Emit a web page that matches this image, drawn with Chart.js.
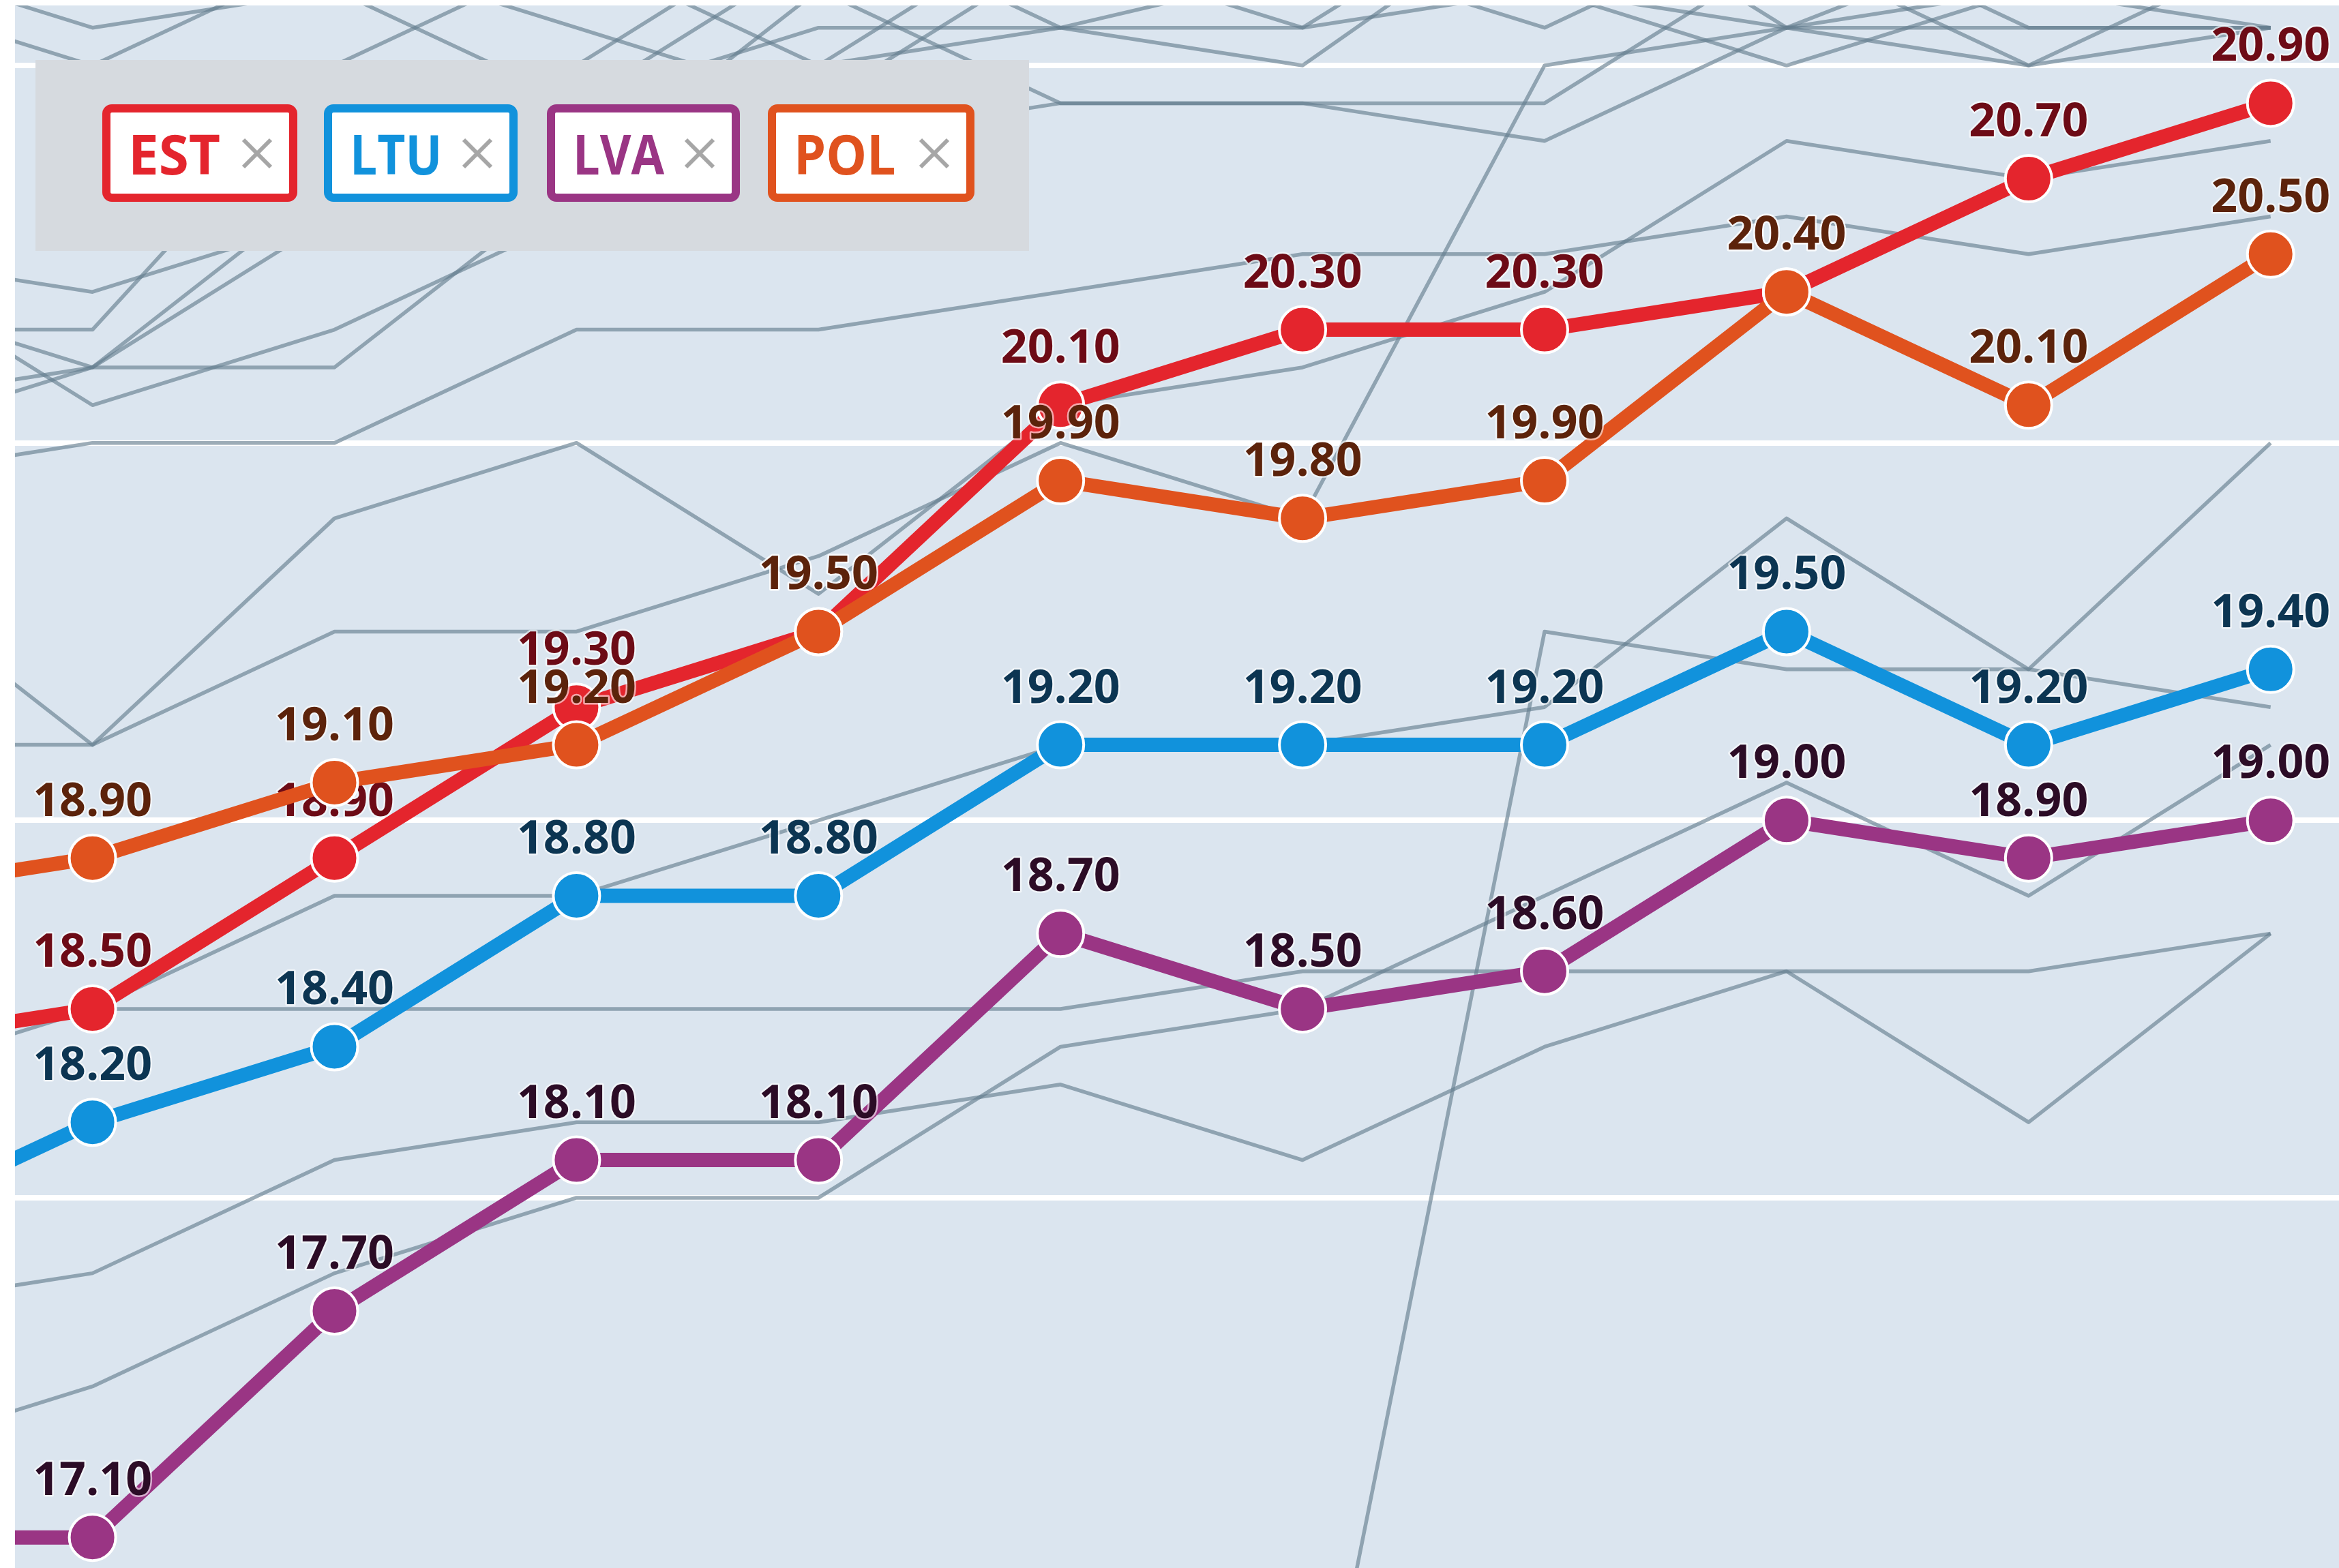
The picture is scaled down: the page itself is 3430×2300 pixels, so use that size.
<!DOCTYPE html>
<html>
<head>
<meta charset="utf-8">
<script src="https://cdn.jsdelivr.net/npm/chart.js@4/dist/chart.umd.min.js"></script>
<style>
	html, body { margin: 0; padding: 0; background: #fff; }
	#wrap { position: relative; width: 3430px; height: 2300px; overflow: hidden; }
	#ChartLifeExp { position: absolute; left: 0; top: 0; }
	#legend {
		position: absolute; left: 52px; top: 88px; width: 1457px; height: 280px;
		background: #d6dadf;
	}
	.chip {
		position: absolute; top: 65px; height: 143px; box-sizing: border-box;
		border: 12px solid; border-radius: 14px; background: #fff;
		display: flex; align-items: center; justify-content: space-between;
		padding: 0 23px 0 26px;
		font-family: "Open Sans", sans-serif; font-weight: 700; font-size: 80px; line-height: 1;
	}
	.chip span { display: inline-block; transform-origin: left center; }
</style>
</head>
<body>
<div id="wrap">
	<canvas id="ChartLifeExp" width="3430" height="2300"></canvas>
	<div id="legend"></div>
</div>
<script>
// --------------
// DATA
// --------------
const years = [2007, 2008, 2009, 2010, 2011, 2012, 2013, 2014, 2015, 2016, 2017];

// highlighted countries
const est = [18.4, 18.5, 18.9, 19.3, 19.5, 20.1, 20.3, 20.3, 20.4, 20.7, 20.9];
const ltu = [17.9, 18.2, 18.4, 18.8, 18.8, 19.2, 19.2, 19.2, 19.5, 19.2, 19.4];
const lva = [17.1, 17.1, 17.7, 18.1, 18.1, 18.7, 18.5, 18.6, 19.0, 18.9, 19.0];
const pol = [18.8, 18.9, 19.1, 19.2, 19.5, 19.9, 19.8, 19.9, 20.4, 20.1, 20.5];

// other countries (grey background lines)
const other01 = [19.9, 20.0, 20.0, 20.3, 20.3, 20.4, 20.5, 20.5, 20.6, 20.5, 20.6];
const other02 = [19.7, 19.2, 19.8, 20.0, 19.6, 20.1, 20.2, 20.4, 20.8, 20.7, 20.8];
const other03 = [19.2, 19.2, 19.5, 19.5, 19.7, 20.0, 19.8, 21.0, 21.1, 21.0, 21.1];
const other04 = [18.3, 18.5, 18.5, 18.5, 18.5, 18.5, 18.6, 18.6, 18.6, 18.6, 18.7];
const other05 = [18.4, 18.5, 18.8, 18.8, 19.0, 19.2, 19.2, 19.3, 19.8, 19.4, 20.0];
const other06 = [17.3, 17.5, 17.8, 18.0, 18.0, 18.4, 18.5, 18.8, 19.1, 18.8, 19.2];
const other07 = [17.7, 17.8, 18.1, 18.2, 18.2, 18.3, 18.1, 18.4, 18.6, 18.2, 18.7];
const other08 = [null, null, null, null, null, null, 16.3, 19.5, 19.4, 19.4, 19.3];
const other09 = [20.5, 20.4, 20.6, 20.9, 21.1, 21.1, 21.25, 21.3, 21.4, 21.1, 21.1];
const other10 = [20.3, 20.3, 21.0, 21.3, 21.0, 21.1, 21.0, 21.45, 21.2, 21.4, 21.5];
const other11 = [20.4, 20.2, 20.2, 20.7, 21.2, 20.9, 20.9, 20.9, 21.3, 21.0, 21.3];
const other12 = [20.5, 20.1, 20.3, 20.6, 20.8, 20.9, 20.9, 20.8, 21.1, 21.35, 21.5];
const other13 = [20.1, 20.2, 20.7, 21.0, 21.4, 21.1, 21.1, 21.5, 21.1, 21.1, 21.1];
const other14 = [20.0, 20.2, 20.6, 20.8, 21.0, 21.4, 21.3, 21.2, 21.1, 21.2, 21.3];
const other15 = [21.3, 21.1, 21.2, 20.9, 21.3, 21.2, 21.3, 21.1, 21.4, 21.2, 21.4];
const other16 = [21.2, 21.0, 21.3, 21.1, 20.9, 21.3, 21.1, 21.2, 21.0, 21.2, 21.1];

const others = [other01, other02, other03, other04, other05, other06, other07, other08,
	other09, other10, other11, other12, other13, other14, other15, other16];

// --------------
// CONFIG CHART
// --------------
const toPoints = (values) => values.map((v, i) => ({ x: years[i], y: v }));

const mainSeries = [
	// drawn top-most first
	{ label: "POL", values: pol, color: "#e0521e", textColor: "#5c230b" },
	{ label: "EST", values: est, color: "#e4252d", textColor: "#6d0b16" },
	{ label: "LTU", values: ltu, color: "#1192dc", textColor: "#0c3552" },
	{ label: "LVA", values: lva, color: "#9a3584", textColor: "#2c0c26" },
];

// legend chips: name, left offset inside the legend box, width, text squeeze
const legendNames = ["EST", "LTU", "LVA", "POL"];
const legendLefts = [98, 423, 750, 1074];
const legendWidths = [286, 284, 283, 303];
const legendSqueeze = [1.0, 0.89, 0.88, 0.94];

const datasets = mainSeries.map((s) => ({
	label: s.label,
	data: toPoints(s.values),
	borderColor: s.color,
	backgroundColor: s.color,
	borderWidth: 21,
	pointRadius: 34,
	pointBorderWidth: 4,
	pointBorderColor: "#ffffff",
	pointBackgroundColor: s.color,
	textColor: s.textColor,
	showValues: true,
})).concat(others.map((values, i) => ({
	label: "other" + (i + 1),
	data: toPoints(values),
	borderColor: "rgba(100,125,143,0.64)",
	borderWidth: 5.5,
	pointRadius: 0,
	showValues: false,
})));

// background of the plot area
const plotBackground = {
	id: "plotBackground",
	beforeDraw(chart) {
		const { ctx, chartArea } = chart;
		ctx.save();
		ctx.fillStyle = "#ffffff";
		ctx.fillRect(0, 0, chart.width, chart.height);
		ctx.fillStyle = "#dbe5ef";
		ctx.fillRect(chartArea.left, chartArea.top, chartArea.right - chartArea.left, chartArea.bottom - chartArea.top);
		ctx.restore();
	},
};

// value labels above the points, drawn right after each dataset
const valueLabels = {
	id: "valueLabels",
	afterDatasetDraw(chart, args) {
		const ds = chart.data.datasets[args.index];
		if (!ds.showValues) return;
		const { ctx, chartArea } = chart;
		ctx.save();
		ctx.font = 'bold 68px "Open Sans"';
		ctx.textAlign = "center";
		ctx.textBaseline = "alphabetic";
		ctx.lineJoin = "round";
		args.meta.data.forEach((pt, i) => {
			if (pt.x < chartArea.left) return;
			const txt = ds.data[i].y.toFixed(2);
			ctx.strokeStyle = "rgba(255,255,255,0.6)";
			ctx.lineWidth = 5;
			ctx.strokeText(txt, pt.x, pt.y - 62);
			ctx.fillStyle = ds.textColor;
			ctx.fillText(txt, pt.x, pt.y - 62);
		});
		ctx.restore();
	},
};

const configLifeExp = {
	type: "line",
	data: { datasets: datasets },
	options: {
		responsive: false,
		animation: false,
		events: [],
		layout: { autoPadding: false, padding: { left: 22, top: 8, right: 0, bottom: 0 } },
		elements: { line: { tension: 0, borderJoinStyle: "round" } },
		plugins: {
			legend: { display: false },
			tooltip: { enabled: false },
		},
		scales: {
			x: {
				type: "linear",
				display: false,
				min: years[1] - 0.3201,
				max: years[10] + 0.2826,
			},
			y: {
				min: 17.019,
				max: 21.159,
				border: { display: false },
				grid: { color: "#ffffff", lineWidth: 8, drawTicks: false },
				ticks: { display: false, stepSize: 1, includeBounds: false },
			},
		},
	},
	plugins: [plotBackground, valueLabels],
};

// --------------
// HTML LEGEND
// --------------
const buildLegend = () => {
	const box = document.getElementById("legend");
	legendNames.forEach((name, i) => {
		const s = mainSeries.find((m) => m.label === name);
		const chip = document.createElement("div");
		chip.className = "chip";
		chip.style.left = legendLefts[i] + "px";
		chip.style.width = legendWidths[i] + "px";
		chip.style.borderColor = s.color;
		chip.style.color = s.color;
		chip.innerHTML = '<span style="transform: scaleX(' + legendSqueeze[i] + ')">' + name + '</span>' +
			'<svg width="48" height="48" viewBox="0 0 48 48"><path d="M4 4 L44 44 M44 4 L4 44" stroke="#a6a6a6" stroke-width="6" fill="none"/></svg>';
		box.appendChild(chip);
	});
};

buildLegend();
document.fonts.load('bold 68px "Open Sans"').then(() => {
	const ChartLifeExp = new Chart(
		document.getElementById("ChartLifeExp"),
		configLifeExp
	);
});
</script>
</body>
</html>
